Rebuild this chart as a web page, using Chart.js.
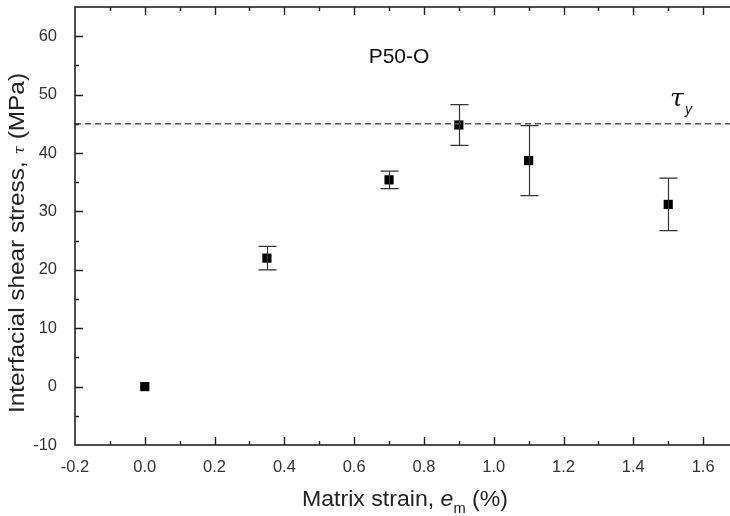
<!DOCTYPE html>
<html>
<head>
<meta charset="utf-8">
<script src="https://cdn.jsdelivr.net/npm/chart.js@4"></script>
<style>
  html, body { margin: 0; padding: 0; background: #fff; overflow: hidden; }
  #wrap { width: 738px; height: 516px; }
</style>
</head>
<body>
<div id="wrap"><canvas id="shearChart"></canvas></div>
<script>
// data
const strain = [0.0, 0.35, 0.7, 0.9, 1.1, 1.5];
const shearStress = [0.0, 22.0, 35.4, 44.8, 38.7, 31.2];
const stressErr = [0, 2.0, 1.5, 3.5, 6.0, 4.5];
const tauY = 45;
const xTicks = [-0.2, 0.0, 0.2, 0.4, 0.6, 0.8, 1.0, 1.2, 1.4, 1.6];
const yTicks = [-10, 0, 10, 20, 30, 40, 50, 60];
const xMin = -0.2, xMax = 1.7, yMin = -10, yMax = 65;

const FONT = "'Liberation Sans', Arial, sans-serif";

// draws a run of [text, font, dy] pieces one after another
function drawRuns(ctx, runs, x, y) {
  let cx = x;
  runs.forEach(([txt, font, dy]) => {
    ctx.font = font;
    ctx.fillText(txt, cx, y + (dy || 0));
    cx += ctx.measureText(txt).width;
  });
}
function runsWidth(ctx, runs) {
  let w = 0;
  runs.forEach(([txt, font]) => {
    ctx.font = font;
    w += ctx.measureText(txt).width;
  });
  return w;
}

// frame, inward ticks, error bars and labels
const decorPlugin = {
  id: "decor",
  afterDatasetsDraw(chart) {
    const ctx = chart.ctx;
    const area = chart.chartArea;
    const xs = chart.scales.x;
    const ys = chart.scales.y;

    // error bars
    ctx.save();
    ctx.strokeStyle = "#333";
    ctx.lineWidth = 1.2;
    strain.forEach((sx, i) => {
      if (!stressErr[i]) return;
      const px = Math.round(xs.getPixelForValue(sx)) + 0.5;
      const top = ys.getPixelForValue(shearStress[i] + stressErr[i]);
      const bot = ys.getPixelForValue(shearStress[i] - stressErr[i]);
      ctx.beginPath();
      ctx.moveTo(px, top); ctx.lineTo(px, bot);
      ctx.moveTo(px - 9, top); ctx.lineTo(px + 9, top);
      ctx.moveTo(px - 9, bot); ctx.lineTo(px + 9, bot);
      ctx.stroke();
    });
    ctx.restore();

    // frame
    ctx.save();
    ctx.strokeStyle = "#222";
    ctx.lineWidth = 1.6;
    ctx.strokeRect(area.left, area.top, area.right - area.left, area.bottom - area.top);

    // ticks pointing inward on every side
    ctx.lineWidth = 1.4;
    ctx.beginPath();
    for (let i = 0; i < xTicks.length; i++) {
      const major = xTicks[i];
      [major, major + 0.1].forEach((v, k) => {
        if (v <= xMin + 1e-9 || v >= xMax - 1e-9) return;
        const len = k === 0 ? 8 : 4;
        const px = Math.round(xs.getPixelForValue(v)) + 0.5;
        ctx.moveTo(px, area.bottom); ctx.lineTo(px, area.bottom - len);
        ctx.moveTo(px, area.top); ctx.lineTo(px, area.top + len);
      });
    }
    for (let i = 0; i < yTicks.length; i++) {
      const major = yTicks[i];
      [major, major + 5].forEach((v, k) => {
        if (v <= yMin || v >= yMax) return;
        const len = k === 0 ? 8 : 4;
        const py = Math.round(ys.getPixelForValue(v)) + 0.5;
        ctx.moveTo(area.left, py); ctx.lineTo(area.left + len, py);
        ctx.moveTo(area.right, py); ctx.lineTo(area.right - len, py);
      });
    }
    ctx.stroke();
    ctx.restore();

    // sample name and yield label
    ctx.save();
    ctx.fillStyle = "#111";
    ctx.textBaseline = "middle";
    ctx.textAlign = "center";
    ctx.font = "21px " + FONT;
    ctx.fillText("P50-O", 399, 57);
    ctx.textAlign = "left";
    ctx.font = "italic 25px 'DejaVu Serif', serif";
    ctx.fillText("τ", 670, 99);
    ctx.font = "italic 14px " + FONT;
    ctx.fillText("y", 685, 110);
    ctx.restore();

    // axis titles with italic symbols
    ctx.save();
    ctx.fillStyle = "#222";
    ctx.textBaseline = "alphabetic";
    ctx.textAlign = "left";
    const norm = "22px " + FONT;
    const xRuns = [
      ["Matrix strain, ", norm],
      ["e", "italic 22px " + FONT],
      ["m", "14px " + FONT, 7],
      [" (%)", norm],
    ];
    const xw = runsWidth(ctx, xRuns);
    ctx.save();
    ctx.translate(405, 506);
    ctx.scale(206 / xw, 1);
    drawRuns(ctx, xRuns, -xw / 2, 0);
    ctx.restore();

    const yRuns = [
      ["Interfacial shear stress, ", norm],
      ["τ", "italic 14px 'DejaVu Serif', serif"],
      [" (MPa)", norm],
    ];
    const yw = runsWidth(ctx, yRuns);
    ctx.translate(24, 243);
    ctx.rotate(-Math.PI / 2);
    ctx.scale(340 / yw, 1);
    drawRuns(ctx, yRuns, -yw / 2, 0);
    ctx.restore();
  },
};

const ctx = document.getElementById("shearChart");

new Chart(ctx, {
  type: "scatter",
  data: {
    datasets: [
      {
        label: "tau_y",
        type: "line",
        data: [{ x: xMin, y: tauY }, { x: xMax, y: tauY }],
        borderColor: "#555",
        borderWidth: 1.5,
        borderDash: [6, 4],
        pointRadius: 0,
        fill: false,
      },
      {
        label: "P50-O",
        data: strain.map((v, i) => ({ x: v, y: shearStress[i] })),
        pointStyle: "rect",
        pointRadius: 6.5,
        backgroundColor: "#000",
        borderColor: "#000",
        borderWidth: 0,
      },
    ],
  },
  options: {
    responsive: true,
    maintainAspectRatio: false,
    animation: false,
    layout: { autoPadding: false, padding: { top: 7, right: 0, left: 0, bottom: 0 } },
    plugins: {
      legend: { display: false },
      tooltip: { enabled: false },
    },
    scales: {
      x: {
        type: "linear",
        min: xMin,
        max: xMax,
        afterBuildTicks: (scale) => {
          scale.ticks = xTicks.map((v) => ({ value: v }));
        },
        afterFit: (scale) => {
          scale.height = 71;
          scale.paddingLeft = 0;
          scale.paddingRight = 0;
        },
        grid: { display: false, drawTicks: false },
        border: { display: false },
        ticks: {
          padding: 13,
          color: "#333",
          font: { family: FONT, size: 16.5 },
          callback: (v) => Number(v).toFixed(1),
        },
      },
      y: {
        type: "linear",
        min: yMin,
        max: yMax,
        afterBuildTicks: (scale) => {
          scale.ticks = yTicks.map((v) => ({ value: v }));
        },
        afterFit: (scale) => {
          scale.width = 75;
          scale.paddingTop = 0;
          scale.paddingBottom = 0;
        },
        grid: { display: false, drawTicks: false },
        border: { display: false },
        ticks: {
          padding: 18,
          color: "#333",
          font: { family: FONT, size: 16.5 },
        },
      },
    },
  },
  plugins: [decorPlugin],
});
</script>
</body>
</html>
